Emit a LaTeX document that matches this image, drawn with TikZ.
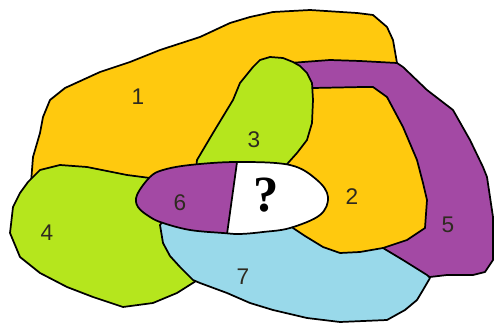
\documentclass[tikz,border=0pt]{standalone}
\usepackage{fontspec}
\setmainfont{Liberation Sans}
\newfontfamily\qmarkfont{Liberation Serif}
\usepackage{tikz}
\usepackage{xcolor}
\definecolor{gold}{HTML}{FFC90E}
\definecolor{lime}{HTML}{B5E61D}
\definecolor{plum}{HTML}{A349A4}
\definecolor{turq}{HTML}{99D9EA}
\definecolor{labeltext}{HTML}{2E2A20}

\begin{document}
\begin{tikzpicture}[
    x=0.75pt, y=-0.75pt,
    region/.style={draw=black, line width=1.3pt, line join=round},
    lbl/.style={text=labeltext, font=\fontsize{17}{17}\selectfont, inner sep=0pt}
]
    \useasboundingbox (0,0) rectangle (494,324);

    % region 1
    \path[region, fill=gold] (30,195) -- (32,170) -- (33,157) -- (40,133) -- (43,117) -- (50,100) -- (65,88)
        -- (100,72) -- (130,62) -- (160,50) -- (200,37) -- (230,23) -- (250,17) -- (273,12) -- (310,10)
        -- (357,13) -- (373,15) -- (387,27) -- (393,40) -- (397,63) -- (405,75) -- (330,120) -- (300,180)
        -- (200,190) -- (100,195) -- cycle;
    % region 2
    \path[region, fill=gold] (300,80) -- (370,80) -- (400,110) -- (428,170) -- (432,240) -- (380,262)
        -- (330,262) -- (270,215) -- (280,170) -- cycle;
    % region 5
    \path[region, fill=plum] (290,63) -- (330,60) -- (360,61) -- (397,63) -- (403,67) -- (427,90)
        -- (453,110) -- (470,140) -- (483,167) -- (487,177) -- (493,217) -- (493,260) -- (485,272)
        -- (473,275) -- (447,275) -- (430,277) -- (395,262) -- (383,248) -- (407,240) -- (425,228)
        -- (427,200) -- (423,183) -- (417,160) -- (403,127) -- (387,97) -- (373,87) -- (363,87)
        -- (313,88) -- (303,80) -- cycle;
    % region 3
    \path[region, fill=lime] (195,178) -- (197,160) -- (213,133) -- (233,100) -- (240,83) -- (253,67)
        -- (260,60) -- (270,57) -- (283,58) -- (293,62) -- (300,66) -- (307,73) -- (312,83) -- (313,100)
        -- (312,123) -- (307,140) -- (297,153) -- (288,163) -- (275,180) -- (210,185) -- cycle;
    % region 4
    \path[region, fill=lime] (28,182) -- (40,170) -- (60,165) -- (87,167) -- (127,175) -- (150,178)
        -- (165,200) -- (190,250) -- (196,281) -- (177,293) -- (153,303) -- (123,307) -- (93,297)
        -- (67,287) -- (40,273) -- (20,257) -- (10,233) -- (13,207) -- (20,193) -- cycle;
    % region 7
    \path[region, fill=turq] (170,212) -- (160,225) -- (163,243) -- (170,256) -- (180,267) -- (193,280)
        -- (200,283) -- (227,293) -- (250,303) -- (273,310) -- (307,318) -- (340,322) -- (387,320)
        -- (405,310) -- (417,300) -- (423,290) -- (430,278) -- (427,275) -- (403,260) -- (383,248)
        -- (360,252) -- (340,253) -- (323,247) -- (305,236) -- (293,228) -- (280,215) -- cycle;

    % middle oval: region 6 and the unknown one
    \path[save path=\oval] plot[smooth cycle, tension=0.6] coordinates {(137,195) (150,177) (163,170)
        (190,165) (237,162) (290,165) (317,180) (328,197) (320,215) (290,228) (263,232) (240,234)
        (223,233) (190,230) (163,223) (150,217) (138,207)};
    \fill[white, use path=\oval];
    \begin{scope}
        \clip[use path=\oval];
        \fill[plum] (120,150) -- (238.7,150) -- (225.5,245) -- (120,245) -- cycle;
        \draw[line width=1.3pt] (238.7,150) -- (225.5,245);
    \end{scope}
    \draw[region, use path=\oval];

    \node[lbl] (n1) at (138,97) {1};
    \node[lbl] (n2) at (352,197) {2};
    \node[lbl] (n3) at (254,140) {3};
    \node[lbl] (n4) at (47,233) {4};
    \node[lbl] (n5) at (448,225) {5};
    \node[lbl] (n6) at (180,203) {6};
    \node[lbl] (n7) at (243,277) {7};
    \node[inner sep=0pt, font=\qmarkfont\bfseries\fontsize{38}{38}\selectfont] (q) at (266,195) {?};
\end{tikzpicture}
\end{document}
